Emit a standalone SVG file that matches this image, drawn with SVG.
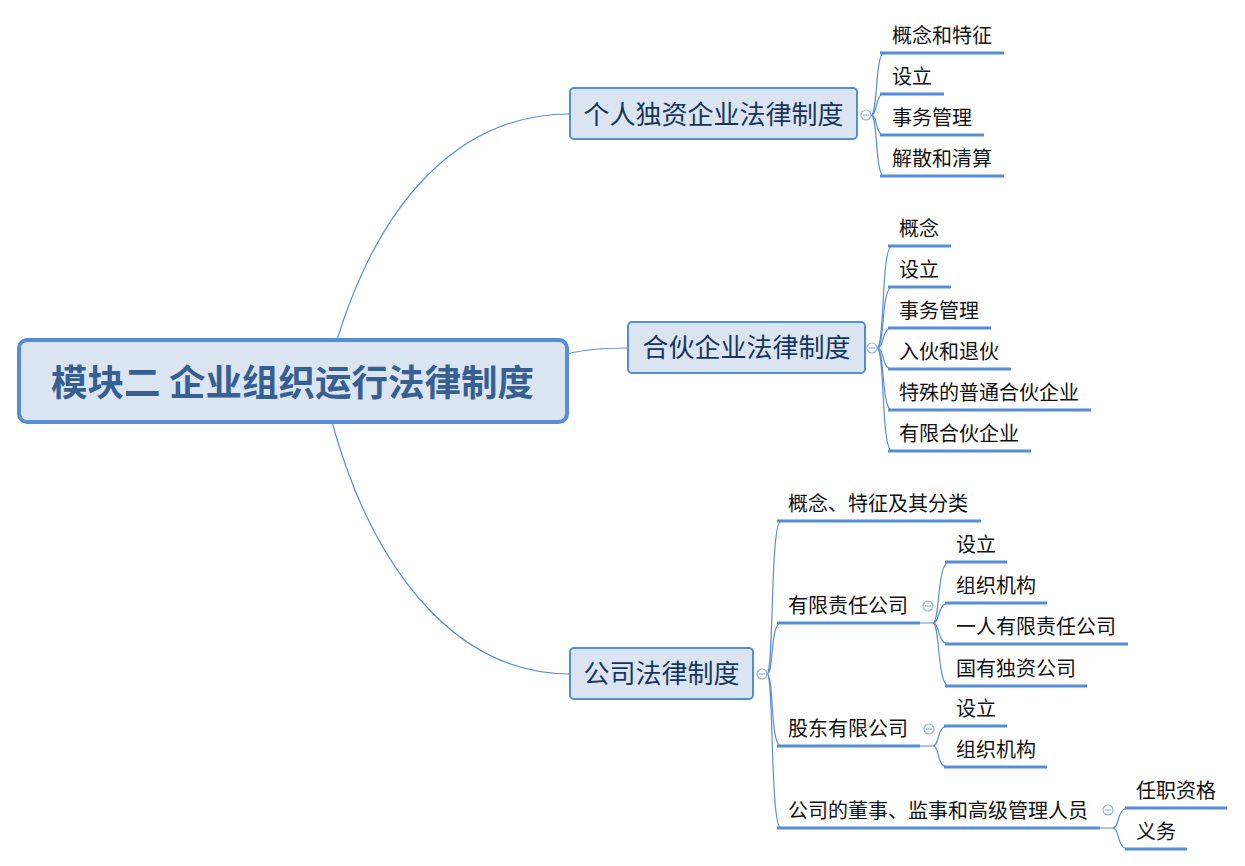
<svg xmlns="http://www.w3.org/2000/svg" width="1245" height="866" viewBox="0 0 1245 866">
<style>
.root-box{fill:#dbe5f1;stroke:#558ed5;stroke-width:4}
.root-text{font-family:"Noto Sans CJK SC","Noto Sans",sans-serif;font-size:36.5px;font-weight:bold;fill:#376092;text-anchor:middle}
.box{fill:#dbe5f1;stroke:#558ed5;stroke-width:2}
.btext{font-family:"Noto Sans CJK SC","Noto Sans",sans-serif;font-size:26px;fill:#17365d;text-anchor:middle}
.leaf{font-family:"Noto Sans CJK SC","Noto Sans",sans-serif;font-size:20px;fill:#111}
.ul{stroke:#558ed5;stroke-width:3;fill:none}
.conn{stroke:#5b8fd6;stroke-width:1.2;fill:none}
.tog{fill:#fff;stroke:#8db3e2;stroke-width:1.2}
.togm{stroke:#8db3e2;stroke-width:1.2}
</style>
<g id="connectors">
<path class="conn" d="M 337 340 C 380 200, 460 114, 570 114"/>
<path class="conn" d="M 567 354 Q 590 348 628 348"/>
<path class="conn" d="M 332 422 C 370 560, 450 674, 570 674"/>
<path class="conn" d="M 871 115 C 878 115, 875 53, 884 53"/>
<path class="conn" d="M 871 115 C 878 115, 875 94, 884 94"/>
<path class="conn" d="M 871 115 C 878 115, 875 135, 884 135"/>
<path class="conn" d="M 871 115 C 878 115, 875 176, 884 176"/>
<path class="conn" d="M 877 348 C 885 348, 881 246, 892 246"/>
<path class="conn" d="M 877 348 C 885 348, 881 287, 892 287"/>
<path class="conn" d="M 877 348 C 885 348, 881 328, 892 328"/>
<path class="conn" d="M 877 348 C 885 348, 881 369, 892 369"/>
<path class="conn" d="M 877 348 C 885 348, 881 410, 892 410"/>
<path class="conn" d="M 877 348 C 885 348, 881 451, 892 451"/>
<path class="conn" d="M 767 674 C 774 674, 770 521, 781 521"/>
<path class="conn" d="M 767 674 C 774 674, 770 623, 781 623"/>
<path class="conn" d="M 767 674 C 774 674, 770 746, 781 746"/>
<path class="conn" d="M 767 674 C 774 674, 770 828, 781 828"/>
<path class="conn" d="M 920 623 L 933 623 C 940 623, 937 562, 949 562"/>
<path class="conn" d="M 933 623 C 940 623, 937 603, 949 603"/>
<path class="conn" d="M 933 623 C 940 623, 937 644, 949 644"/>
<path class="conn" d="M 933 623 C 940 623, 937 686, 949 686"/>
<path class="conn" d="M 920 746 L 933 746 C 940 746, 936 726, 948 726"/>
<path class="conn" d="M 933 746 C 940 746, 936 767, 948 767"/>
<path class="conn" d="M 1100 828 L 1113 828 C 1120 828, 1116 808, 1129 808"/>
<path class="conn" d="M 1113 828 C 1120 828, 1116 849, 1129 849"/>
</g>
<g id="root">
<rect class="root-box" x="19" y="340" width="548" height="82" rx="8"/>
<text class="root-text" x="292.5" y="396">模块二 企业组织运行法律制度</text>
</g>
<g id="b1">
<rect class="box" x="570" y="88" width="287" height="51" rx="4"/>
<text class="btext" x="713.5" y="124">个人独资企业法律制度</text>
<circle class="tog" cx="866" cy="115" r="5"/><line class="togm" x1="863" y1="115" x2="869" y2="115"/>
</g>
<g id="b1-1"><text class="leaf" x="892" y="43">概念和特征</text><line class="ul" x1="880" y1="53" x2="1004" y2="53"/></g>
<g id="b1-2"><text class="leaf" x="892" y="84">设立</text><line class="ul" x1="880" y1="94" x2="944" y2="94"/></g>
<g id="b1-3"><text class="leaf" x="892" y="125">事务管理</text><line class="ul" x1="880" y1="135" x2="984" y2="135"/></g>
<g id="b1-4"><text class="leaf" x="892" y="166">解散和清算</text><line class="ul" x1="880" y1="176" x2="1004" y2="176"/></g>
<g id="b2">
<rect class="box" x="628" y="322" width="237" height="51" rx="4"/>
<text class="btext" x="746.5" y="357">合伙企业法律制度</text>
<circle class="tog" cx="872" cy="348" r="5"/><line class="togm" x1="869" y1="348" x2="875" y2="348"/>
</g>
<g id="b2-1"><text class="leaf" x="899" y="236">概念</text><line class="ul" x1="888" y1="246" x2="951" y2="246"/></g>
<g id="b2-2"><text class="leaf" x="899" y="277">设立</text><line class="ul" x1="888" y1="287" x2="951" y2="287"/></g>
<g id="b2-3"><text class="leaf" x="899" y="318">事务管理</text><line class="ul" x1="888" y1="328" x2="991" y2="328"/></g>
<g id="b2-4"><text class="leaf" x="899" y="359">入伙和退伙</text><line class="ul" x1="888" y1="369" x2="1011" y2="369"/></g>
<g id="b2-5"><text class="leaf" x="899" y="400">特殊的普通合伙企业</text><line class="ul" x1="888" y1="410" x2="1091" y2="410"/></g>
<g id="b2-6"><text class="leaf" x="899" y="441">有限合伙企业</text><line class="ul" x1="888" y1="451" x2="1031" y2="451"/></g>
<g id="b3">
<rect class="box" x="570" y="648" width="183" height="51" rx="4"/>
<text class="btext" x="661.5" y="683">公司法律制度</text>
<circle class="tog" cx="762" cy="674" r="5"/><line class="togm" x1="759" y1="674" x2="765" y2="674"/>
</g>
<g id="b3-1"><text class="leaf" x="788" y="511">概念、特征及其分类</text><line class="ul" x1="777" y1="521" x2="981" y2="521"/></g>
<g id="b3-2"><text class="leaf" x="788" y="613">有限责任公司</text><line class="ul" x1="777" y1="623" x2="920" y2="623"/>
<circle class="tog" cx="928" cy="606" r="5"/><line class="togm" x1="925" y1="606" x2="931" y2="606"/></g>
<g id="b3-2-1"><text class="leaf" x="956" y="552">设立</text><line class="ul" x1="945" y1="562" x2="1007" y2="562"/></g>
<g id="b3-2-2"><text class="leaf" x="956" y="593">组织机构</text><line class="ul" x1="945" y1="603" x2="1047" y2="603"/></g>
<g id="b3-2-3"><text class="leaf" x="956" y="634">一人有限责任公司</text><line class="ul" x1="945" y1="644" x2="1128" y2="644"/></g>
<g id="b3-2-4"><text class="leaf" x="956" y="676">国有独资公司</text><line class="ul" x1="945" y1="686" x2="1087" y2="686"/></g>
<g id="b3-3"><text class="leaf" x="788" y="736">股东有限公司</text><line class="ul" x1="777" y1="746" x2="920" y2="746"/>
<circle class="tog" cx="929" cy="729" r="5"/><line class="togm" x1="926" y1="729" x2="932" y2="729"/></g>
<g id="b3-3-1"><text class="leaf" x="956" y="716">设立</text><line class="ul" x1="944" y1="726" x2="1007" y2="726"/></g>
<g id="b3-3-2"><text class="leaf" x="956" y="757">组织机构</text><line class="ul" x1="944" y1="767" x2="1047" y2="767"/></g>
<g id="b3-4"><text class="leaf" x="788" y="818">公司的董事、监事和高级管理人员</text><line class="ul" x1="777" y1="828" x2="1100" y2="828"/>
<circle class="tog" cx="1108" cy="810" r="5"/><line class="togm" x1="1105" y1="810" x2="1111" y2="810"/></g>
<g id="b3-4-1"><text class="leaf" x="1136" y="798">任职资格</text><line class="ul" x1="1125" y1="808" x2="1227" y2="808"/></g>
<g id="b3-4-2"><text class="leaf" x="1136" y="839">义务</text><line class="ul" x1="1125" y1="849" x2="1187" y2="849"/></g>
</svg>
